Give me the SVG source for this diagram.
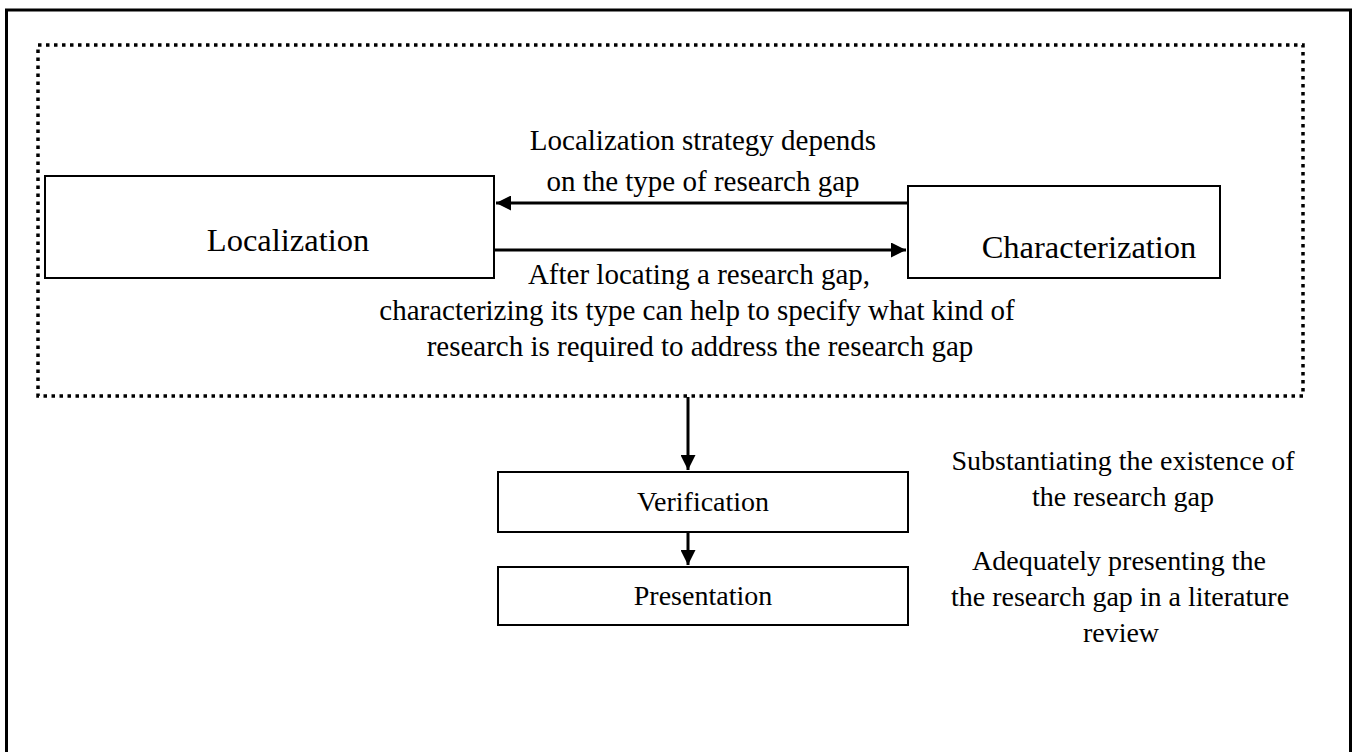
<svg xmlns="http://www.w3.org/2000/svg" width="1357" height="752" viewBox="0 0 1357 752">
<style>
text{font-family:"Liberation Serif","Times New Roman",serif;fill:#000;text-anchor:middle}
.lbl{font-size:28px}
.mid{font-size:29px}
.big{font-size:32.5px}
.box{fill:#fff;stroke:#000;stroke-width:2}
.ln{stroke:#000;stroke-width:3;fill:none}
</style>
<defs>
<marker id="ah" viewBox="0 0 10 10" refX="10" refY="5" markerWidth="5" markerHeight="5" markerUnits="strokeWidth" orient="auto"><path d="M0,0L10,5L0,10z" fill="#000"/></marker>
</defs>
<rect width="1357" height="752" fill="#fff"/>
<rect x="6.5" y="10" width="1344" height="760" fill="none" stroke="#000" stroke-width="3"/>
<rect id="group" x="38" y="45" width="1265" height="351" fill="none" stroke="#000" stroke-width="3.5" stroke-dasharray="3.5 4.5"/>
<g id="localization"><rect class="box" x="45" y="176" width="449" height="102"/><text class="big" x="288" y="251">Localization</text></g>
<g id="characterization"><rect class="box" x="908" y="186" width="312" height="92"/><text class="big" x="1089" y="258">Characterization</text></g>
<g id="verification"><rect class="box" x="498" y="472" width="410" height="60" stroke-width="3"/><text class="lbl" x="703" y="511">Verification</text></g>
<g id="presentation"><rect class="box" x="498" y="567" width="410" height="58" stroke-width="3"/><text class="lbl" x="703" y="605">Presentation</text></g>
<g id="connectors">
<line class="ln" x1="908" y1="203" x2="496" y2="203" marker-end="url(#ah)"/>
<line class="ln" x1="494" y1="250" x2="906" y2="250" marker-end="url(#ah)"/>
<line class="ln" x1="688" y1="397" x2="688" y2="470" marker-end="url(#ah)"/>
<line class="ln" x1="688" y1="532" x2="688" y2="565" marker-end="url(#ah)"/>
</g>
<g id="labels">
<text class="mid" x="703" y="150">Localization strategy depends</text>
<text class="mid" x="703" y="191">on the type of research gap</text>
<text class="mid" x="699" y="284">After locating a research gap,</text>
<text class="mid" x="697" y="320">characterizing its type can help to specify what kind of</text>
<text class="mid" x="700" y="356">research is required to address the research gap</text>
<text class="lbl" x="1123" y="470">Substantiating the existence of</text>
<text class="lbl" x="1123" y="506">the research gap</text>
<text class="lbl" x="1119" y="570">Adequately presenting the</text>
<text class="lbl" x="1120" y="606">the research gap in a literature</text>
<text class="lbl" x="1121" y="642">review</text>
</g>
</svg>
